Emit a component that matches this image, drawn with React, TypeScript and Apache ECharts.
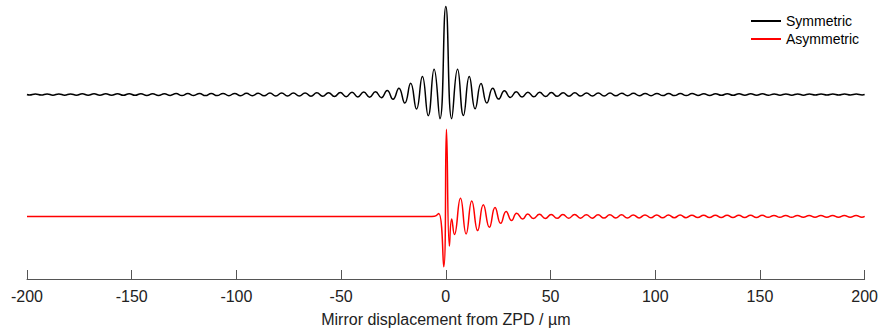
import { useEffect, useRef } from "react";
import * as echarts from "echarts";

// x axis ticks (µm)
const xTicks = [-200, -150, -100, -50, 0, 50, 100, 150, 200];

// Symmetric interferogram: extrema positions (distance from ZPD, µm)
const symPos = [
  2.8, 5.6, 8.4, 11.2, 14.0, 16.8, 19.6, 22.4, 25.2, 28.0,
  30.8, 33.6, 36.4, 39.2, 42.0, 44.8, 47.6, 50.4, 53.2, 56.0,
  58.8, 61.6, 64.4, 67.2, 70.0, 72.8, 75.6, 78.4, 81.2, 84.0,
  86.8, 89.6, 92.4, 95.2, 98.0, 100.8, 103.6, 106.4, 109.2, 112.0,
  114.8, 117.6, 120.4, 123.2, 126.0, 128.8, 131.6, 134.4, 137.2, 140.0,
  142.8, 145.6, 148.4, 151.2, 154.0, 156.8, 159.6, 162.4, 165.2, 168.0,
  170.8, 173.6, 176.4, 179.2, 182.0, 184.8, 187.6, 190.4, 193.2, 196.0,
  198.8, 200,
];
const symPeak = 1.0;
// values at +symPos
const symRight = [
  -0.275, 0.287, -0.238, 0.205, -0.163, 0.126, -0.096, 0.070, -0.052, 0.043,
  -0.034, 0.031, -0.029, 0.027, -0.026, 0.025, -0.023, 0.022, -0.021, 0.020,
  -0.019, 0.019, -0.018, 0.018, -0.017, 0.017, -0.016, 0.016, -0.015, 0.015,
  -0.014, 0.014, -0.014, 0.013, -0.013, 0.013, -0.012, 0.012, -0.012, 0.011,
  -0.011, 0.011, -0.010, 0.010, -0.010, 0.010, -0.009, 0.009, -0.009, 0.009,
  -0.008, 0.008, -0.008, 0.008, -0.008, 0.007, -0.007, 0.007, -0.007, 0.007,
  -0.007, 0.006, -0.006, 0.006, -0.006, 0.006, -0.006, 0.006, -0.005, 0.005,
  -0.005, 0,
];
// values at -symPos
const symLeft = [
  -0.275, 0.287, -0.240, 0.206, -0.165, 0.127, -0.097, 0.072, -0.054, 0.045,
  -0.036, 0.032, -0.030, 0.028, -0.027, 0.026, -0.024, 0.023, -0.022, 0.021,
  -0.020, 0.020, -0.019, 0.018, -0.018, 0.017, -0.017, 0.016, -0.016, 0.016,
  -0.015, 0.015, -0.014, 0.014, -0.014, 0.013, -0.013, 0.013, -0.012, 0.012,
  -0.012, 0.012, -0.011, 0.011, -0.011, 0.011, -0.010, 0.010, -0.010, 0.010,
  -0.010, 0.009, -0.009, 0.009, -0.009, 0.009, -0.008, 0.008, -0.008, 0.008,
  -0.008, 0.008, -0.007, 0.007, -0.007, 0.007, -0.007, 0.007, -0.006, 0.006,
  -0.006, 0,
];

// Asymmetric interferogram: extrema positions (µm) and values
const asymX = [
  -200, -8.0, -5.4, -3.4, -1.0, 0.3, 1.7, 2.8, 4.1, 7.0,
  9.7, 12.4, 15.2, 17.9, 20.8, 23.5, 26.2, 28.8, 31.4, 33.8,
  36.7, 39.1, 41.9, 44.7, 47.5, 50.3, 53.1, 55.9, 58.7, 61.5,
  64.3, 67.1, 69.9, 72.7, 75.5, 78.3, 81.1, 83.9, 86.7, 89.5,
  92.3, 95.1, 97.9, 100.7, 103.5, 106.3, 109.1, 111.9, 114.7, 117.5,
  120.3, 123.1, 125.9, 128.7, 131.5, 134.3, 137.1, 139.9, 142.7, 145.5,
  148.3, 151.1, 153.9, 156.7, 159.5, 162.3, 165.1, 167.9, 170.7, 173.5,
  176.3, 179.1, 181.9, 184.7, 187.5, 190.3, 193.1, 195.9, 198.7, 200,
];
const asymY = [
  0, 0, 0.002, 0.034, -0.573, 0.989, -0.337, -0.03, -0.206, 0.206,
  -0.199, 0.176, -0.161, 0.131, -0.124, 0.101, -0.079, 0.056, -0.048, 0.037,
  -0.030, 0.026, -0.025, 0.024, -0.023, 0.022, -0.022, 0.021, -0.021, 0.021,
  -0.020, 0.020, -0.020, 0.019, -0.019, 0.019, -0.018, 0.018, -0.018, 0.017,
  -0.017, 0.017, -0.016, 0.016, -0.016, 0.015, -0.015, 0.015, -0.015, 0.014,
  -0.014, 0.014, -0.014, 0.013, -0.013, 0.013, -0.013, 0.012, -0.012, 0.012,
  -0.012, 0.012, -0.011, 0.011, -0.011, 0.011, -0.011, 0.011, -0.010, 0.010,
  -0.010, 0.010, -0.010, 0.010, -0.010, 0.009, -0.009, 0.009, -0.009, 0,
];

const FONT = '"Liberation Sans", Arial, Helvetica, sans-serif';

export default function App() {
  const ref = useRef<HTMLDivElement>(null);

  useEffect(() => {
    if (!ref.current) return;
    const chart = echarts.init(ref.current, null, { renderer: "svg", width: 881, height: 332 });

    const symData: [number, number][] = [];
    for (let i = symPos.length - 1; i >= 0; i--) symData.push([-symPos[i], symLeft[i]]);
    symData.push([0, symPeak]);
    for (let i = 0; i < symPos.length; i++) symData.push([symPos[i], symRight[i]]);

    const asymData: [number, number][] = asymX.map((x, i) => [x, asymY[i]]);

    chart.setOption({
      animation: false,
      textStyle: { fontFamily: FONT },
      grid: { left: 27, right: 15, top: 5, bottom: 50, containLabel: false },
      legend: {
        orient: "vertical",
        left: 746,
        top: 7,
        itemGap: 0,
        icon: "rect",
        itemWidth: 30,
        itemHeight: 2,
        textStyle: { fontSize: 14, lineHeight: 18, color: "#000", fontFamily: FONT },
        data: ["Symmetric", "Asymmetric"],
      },
      xAxis: {
        type: "value",
        min: xTicks[0],
        max: xTicks[xTicks.length - 1],
        interval: 50,
        name: "Mirror displacement from ZPD / µm",
        nameLocation: "middle",
        nameGap: 32,
        nameTextStyle: { fontSize: 16, color: "#222", fontFamily: FONT },
        axisLine: { show: true, onZero: false, lineStyle: { color: "#555", width: 1 } },
        axisTick: { show: true, inside: true, length: 9, lineStyle: { color: "#555", width: 1 } },
        axisLabel: { fontSize: 16, color: "#222", margin: 9, fontFamily: FONT },
        splitLine: { show: false },
      },
      yAxis: [
        { type: "value", show: false, min: -2.0955, max: 1.0169, splitLine: { show: false } },
        { type: "value", show: false, min: -0.7112, max: 2.4011, splitLine: { show: false } },
      ],
      series: [
        {
          name: "Symmetric",
          type: "line",
          yAxisIndex: 0,
          data: symData,
          smooth: 0.5,
          symbol: "none",
          color: "#000",
          lineStyle: { color: "#000", width: 1.5 },
        },
        {
          name: "Asymmetric",
          type: "line",
          yAxisIndex: 1,
          data: asymData,
          smooth: 0.5,
          symbol: "none",
          color: "#ff0000",
          lineStyle: { color: "#ff0000", width: 1.5 },
        },
      ],
    });

    return () => chart.dispose();
  }, []);

  return (
    <div
      ref={ref}
      style={{ position: "fixed", left: 0, top: 0, width: 881, height: 332, background: "#fff" }}
    />
  );
}
